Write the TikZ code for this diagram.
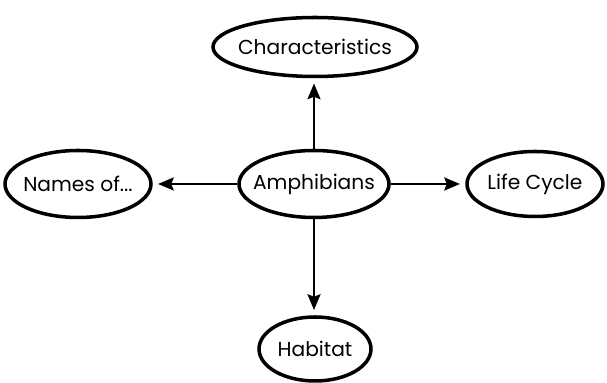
\documentclass[tikz,border=0pt]{standalone}
\usepackage{fontspec}
\setmainfont{Poppins}
\usetikzlibrary{shapes.geometric,arrows.meta}
\newcommand{\mapFont}{\fontsize{11.5}{14}\selectfont}
\newcommand{\topicText}[1]{\makebox[0pt]{#1}}
\tikzset{
  topic/.style={ellipse, draw, line width=2pt, inner sep=0pt, font=\mapFont},
  link/.style={-{Stealth[length=9pt,width=7.5pt,inset=1.5pt]}, line width=0.9pt, shorten >=3pt}
}

\begin{document}
\begin{tikzpicture}
  \useasboundingbox (0,0) rectangle (12.14,7.66);

  \node[topic, minimum width=3.0cm, minimum height=1.34cm] (amph) at (6.28,3.98) {\topicText{Amphibians}};
  \node[topic, minimum width=4.08cm, minimum height=1.18cm] (char) at (6.30,6.72) {\topicText{Characteristics}};
  \node[topic, minimum width=2.92cm, minimum height=1.34cm] (names) at (1.56,3.98) {\topicText{Names of...}};
  \node[topic, minimum width=2.72cm, minimum height=1.30cm] (life) at (10.70,3.98) {\topicText{Life Cycle}};
  \node[topic, minimum width=2.24cm, minimum height=1.28cm] (hab) at (6.30,0.68) {\topicText{Habitat}};

  \draw[link] (amph.north) -- (amph.north |- char.south);
  \draw[link] (amph.south) -- (amph.south |- hab.north);
  \draw[link] (amph.west) -- (names.east);
  \draw[link] (amph.east) -- (life.west);
\end{tikzpicture}
\end{document}
